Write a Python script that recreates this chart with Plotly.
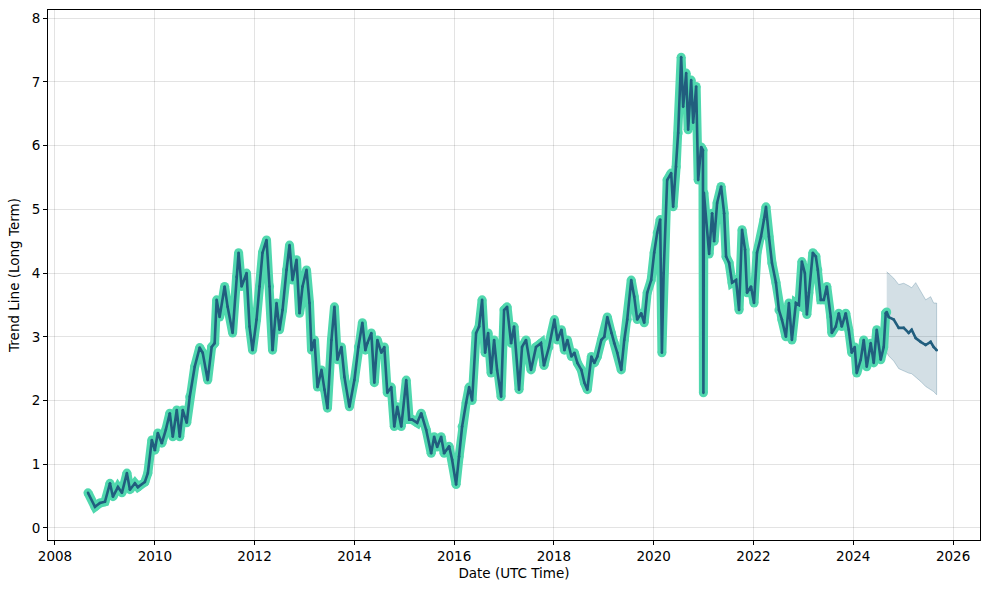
import pandas as pd
import plotly.graph_objects as go

# ---- data (decimal years) ----
hist_years = [
    2008.66, 2008.80, 2008.90, 2009.00, 2009.10, 2009.16, 2009.26, 2009.34, 2009.44, 2009.50,
    2009.60, 2009.66, 2009.80, 2009.86, 2009.94, 2010.00, 2010.06, 2010.14, 2010.22, 2010.30,
    2010.36, 2010.44, 2010.50, 2010.56, 2010.64, 2010.70, 2010.80, 2010.90, 2010.96, 2011.06,
    2011.14, 2011.20, 2011.24, 2011.30, 2011.40, 2011.46, 2011.56, 2011.64, 2011.68, 2011.74,
    2011.84, 2011.90, 2011.96, 2012.04, 2012.10, 2012.16, 2012.24, 2012.30, 2012.36, 2012.44,
    2012.50, 2012.56, 2012.64, 2012.70, 2012.76, 2012.84, 2012.90, 2012.96, 2013.04, 2013.10,
    2013.14, 2013.20, 2013.26, 2013.34, 2013.40, 2013.46, 2013.54, 2013.60, 2013.66, 2013.74,
    2013.80, 2013.90, 2014.00, 2014.08, 2014.16, 2014.22, 2014.26, 2014.34, 2014.40, 2014.46,
    2014.54, 2014.60, 2014.66, 2014.74, 2014.80, 2014.86, 2014.94, 2015.04, 2015.10, 2015.16,
    2015.26, 2015.34, 2015.44, 2015.54, 2015.60, 2015.66, 2015.74, 2015.80, 2015.90, 2015.96,
    2016.04, 2016.10, 2016.16, 2016.24, 2016.30, 2016.36, 2016.44, 2016.50, 2016.56, 2016.62,
    2016.68, 2016.74, 2016.80, 2016.86, 2016.94, 2017.00, 2017.06, 2017.14, 2017.20, 2017.30,
    2017.36, 2017.44, 2017.54, 2017.64, 2017.74, 2017.80, 2017.90, 2018.01, 2018.07, 2018.15,
    2018.21, 2018.27, 2018.35, 2018.41, 2018.47, 2018.55, 2018.61, 2018.67, 2018.75, 2018.81,
    2018.87, 2018.95, 2019.01, 2019.07, 2019.15, 2019.21, 2019.27, 2019.35, 2019.41, 2019.47,
    2019.55, 2019.61, 2019.67, 2019.75, 2019.81, 2019.87, 2019.95, 2020.01, 2020.07, 2020.13,
    2020.165, 2020.20, 2020.27, 2020.35, 2020.39, 2020.45, 2020.49, 2020.55, 2020.59, 2020.65,
    2020.69, 2020.75, 2020.79, 2020.85, 2020.89, 2020.95, 2020.985, 2020.995, 2021.005, 2021.11,
    2021.17, 2021.21, 2021.27, 2021.35, 2021.41, 2021.45, 2021.51, 2021.57, 2021.65, 2021.71,
    2021.77, 2021.83, 2021.87, 2021.95, 2022.01, 2022.07, 2022.15, 2022.21, 2022.25, 2022.31,
    2022.37, 2022.45, 2022.51, 2022.57, 2022.65, 2022.71, 2022.77, 2022.85, 2022.91, 2022.97,
    2023.03, 2023.07, 2023.11, 2023.19, 2023.25, 2023.29, 2023.35, 2023.41, 2023.47, 2023.55,
    2023.57, 2023.65, 2023.71, 2023.77, 2023.85, 2023.91, 2023.97, 2024.03, 2024.07, 2024.15,
    2024.21, 2024.27, 2024.35, 2024.41, 2024.47, 2024.55, 2024.61, 2024.65, 2024.67,
]
hist_values = [
    0.55, 0.33, 0.39, 0.41, 0.70, 0.49, 0.64, 0.55, 0.86, 0.60,
    0.70, 0.64, 0.72, 0.86, 1.38, 1.22, 1.49, 1.33, 1.54, 1.80,
    1.43, 1.85, 1.43, 1.85, 1.65, 2.06, 2.53, 2.83, 2.75, 2.32,
    2.84, 2.90, 3.58, 3.31, 3.79, 3.47, 3.06, 3.94, 4.32, 3.79,
    4.00, 3.16, 2.79, 3.27, 3.79, 4.32, 4.52, 3.79, 2.79, 3.53,
    3.11, 3.42, 4.05, 4.44, 3.89, 4.21, 3.37, 3.79, 4.05, 3.53,
    2.79, 2.95, 2.21, 2.48, 2.17, 1.88, 2.95, 3.47, 2.64, 2.84,
    2.37, 1.90, 2.32, 2.84, 3.22, 2.79, 2.90, 3.06, 2.28, 2.95,
    2.75, 2.84, 2.12, 2.21, 1.59, 1.90, 1.59, 2.32, 1.70, 1.70,
    1.65, 1.80, 1.54, 1.17, 1.43, 1.27, 1.43, 1.17, 1.28, 1.07,
    0.68, 1.12, 1.59, 1.96, 2.21, 2.00, 3.06, 3.16, 3.58, 2.75,
    3.06, 2.43, 2.95, 2.48, 2.06, 3.42, 3.47, 2.90, 3.16, 2.17,
    2.84, 2.95, 2.48, 2.84, 2.90, 2.55, 2.84, 3.27, 2.95, 3.11,
    2.79, 2.95, 2.69, 2.75, 2.59, 2.48, 2.28, 2.17, 2.69, 2.59,
    2.69, 2.95, 3.00, 3.31, 3.06, 2.90, 2.75, 2.48, 2.95, 3.27,
    3.89, 3.63, 3.27, 3.37, 3.22, 3.69, 3.89, 4.32, 4.63, 4.84,
    2.75, 4.00, 5.46, 5.57, 5.04, 5.67, 6.20, 7.39, 6.61, 7.14,
    6.25, 7.03, 6.36, 6.93, 5.46, 5.98, 5.93, 2.12, 5.26, 4.30,
    4.94, 4.50, 5.10, 5.36, 4.94, 4.26, 4.16, 3.85, 3.89, 3.42,
    4.68, 4.37, 3.69, 3.79, 3.53, 4.32, 4.57, 4.84, 5.04, 4.57,
    4.16, 3.85, 3.42, 3.27, 3.00, 3.53, 2.95, 3.53, 3.50, 4.18,
    4.00, 3.35, 3.69, 4.32, 4.26, 4.05, 3.58, 3.58, 3.79, 3.31,
    3.06, 3.16, 3.37, 3.16, 3.37, 3.11, 2.75, 2.84, 2.43, 2.64,
    2.95, 2.53, 2.90, 2.59, 3.11, 2.64, 2.84, 3.37, 3.39,
]

fc_years = [2024.67, 2024.71, 2024.81, 2024.91, 2025.01, 2025.11, 2025.17,
            2025.25, 2025.35, 2025.45, 2025.55, 2025.61, 2025.67]
fc_values = [3.39, 3.31, 3.27, 3.14, 3.14, 3.06, 3.11, 2.98, 2.92, 2.87, 2.92, 2.84, 2.79]
fc_upper = [4.02, 3.99, 3.92, 3.82, 3.84, 3.80, 3.77, 3.85, 3.72, 3.58, 3.63, 3.53, 3.53]
fc_lower = [2.75, 2.70, 2.62, 2.50, 2.46, 2.43, 2.42, 2.37, 2.30, 2.22, 2.17, 2.14, 2.09]

x_tick_years = [2008, 2010, 2012, 2014, 2016, 2018, 2020, 2022, 2024, 2026]
y_ticks = [0, 1, 2, 3, 4, 5, 6, 7, 8]


def to_date(y):
    yr = int(y)
    start = pd.Timestamp(year=yr, month=1, day=1)
    end = pd.Timestamp(year=yr + 1, month=1, day=1)
    return start + (end - start) * (y - yr)


hist_dates = [to_date(v) for v in hist_years]
fc_dates = [to_date(v) for v in fc_years]

GREEN = "#50D8AE"
DARK = "#215E7E"
FONT = "DejaVu Sans"

fig = go.Figure()

# forecast uncertainty band
fig.add_trace(go.Scatter(
    x=fc_dates + fc_dates[::-1],
    y=fc_upper + fc_lower[::-1],
    fill="toself",
    fillcolor="rgba(33,94,126,0.2)",
    line=dict(color="rgba(33,94,126,0.25)", width=1),
    mode="lines", hoverinfo="skip", showlegend=False,
))

# historical thick line (round joins emulated with markers)
fig.add_trace(go.Scatter(
    x=hist_dates, y=hist_values, mode="lines+markers",
    line=dict(color=GREEN, width=9),
    marker=dict(color=GREEN, size=9, line=dict(width=0)),
    showlegend=False,
))
# trend line (historical + forecast)
fig.add_trace(go.Scatter(
    x=hist_dates + fc_dates[1:], y=hist_values + fc_values[1:], mode="lines+markers",
    line=dict(color=DARK, width=2.6),
    marker=dict(color=DARK, size=2.6, line=dict(width=0)),
    showlegend=False,
))

fig.update_layout(
    width=990, height=590,
    margin=dict(l=48, r=10, t=10, b=50),
    paper_bgcolor="white", plot_bgcolor="white",
    font=dict(family=FONT, size=13.5, color="black"),
    xaxis=dict(
        type="date",
        range=[to_date(2007.86), to_date(2026.54)],
        tickvals=[to_date(v) for v in x_tick_years],
        ticktext=[str(v) for v in x_tick_years],
        showline=True, linecolor="black", linewidth=1, mirror=True,
        ticks="outside", ticklen=4, tickcolor="black",
        showgrid=True, gridcolor="rgba(0,0,0,0.11)", gridwidth=1,
        zeroline=False,
        title=dict(text="Date (UTC Time)", font=dict(size=13.5), standoff=5),
    ),
    yaxis=dict(
        range=[-0.19, 8.13],
        tickvals=y_ticks,
        showline=True, linecolor="black", linewidth=1, mirror=True,
        ticks="outside", ticklen=4, tickcolor="black",
        showgrid=True, gridcolor="rgba(0,0,0,0.11)", gridwidth=1,
        zeroline=False,
        title=dict(text="Trend Line (Long Term)", font=dict(size=13.5), standoff=8),
    ),
)

fig.write_html("out.html")
